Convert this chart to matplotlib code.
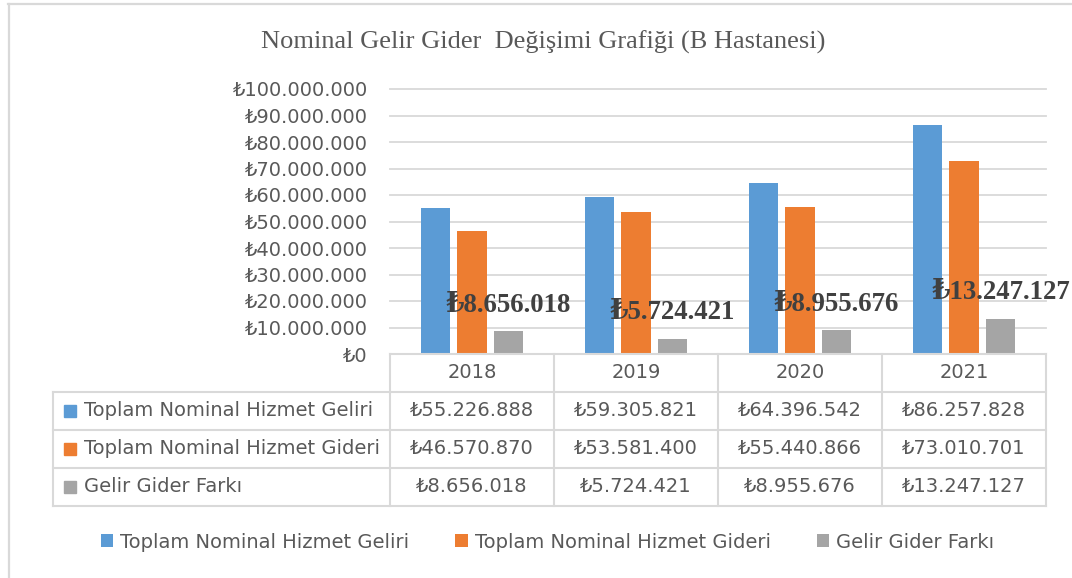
import matplotlib
matplotlib.use("Agg")
import matplotlib.pyplot as plt
from matplotlib.lines import Line2D
from matplotlib.patches import Patch
from matplotlib.transforms import offset_copy
import numpy as np

# ---- data ----
years = ["2018", "2019", "2020", "2021"]
series_names = ["Toplam Nominal Hizmet Geliri", "Toplam Nominal Hizmet Gideri", "Gelir Gider Farkı"]
gelir = [55226888, 59305821, 64396542, 86257828]
gider = [46570870, 53581400, 55440866, 73010701]
fark = [8656018, 5724421, 8955676, 13247127]
colors = ["#5B9BD5", "#ED7D31", "#A5A5A5"]
title = "Nominal Gelir Gider  Değişimi Grafiği (B Hastanesi)"

TXT = "#595959"
GRID = "#D9D9D9"
W, H = 1072, 578


def tl(v):
    return "₺" + f"{v:,}".replace(",", ".")


plt.rcParams['font.family'] = ['DejaVu Sans']
fig = plt.figure(figsize=(W / 100, H / 100), dpi=100)

# figure border (top & left)
fig.add_artist(Line2D([8 / W, 1], [1 - 4 / H, 1 - 4 / H], color=GRID, lw=1.6, transform=fig.transFigure))
fig.add_artist(Line2D([9 / W, 9 / W], [1 - 4 / H, 0], color=GRID, lw=1.6, transform=fig.transFigure))

# ---- main bar axes ----
x0, x1 = 390, 1046
y_top, y_bot = 89, 354
ax = fig.add_axes([x0 / W, 1 - y_bot / H, (x1 - x0) / W, (y_bot - y_top) / H])
x = np.arange(len(years))
bw = 0.177
step = 0.2226
all_series = [gelir, gider, fark]
for i, (vals, c) in enumerate(zip(all_series, colors)):
    ax.bar(x + (i - 1) * step, vals, width=bw, color=c, zorder=3)

ax.set_xlim(-0.5, len(years) - 0.5)
ax.set_ylim(0, 100_000_000)
yt = np.arange(0, 100_000_001, 10_000_000)
ax.set_yticks(yt)
ax.set_yticklabels([tl(int(v)) for v in yt], fontsize=14, color=TXT)
ax.tick_params(axis='y', length=0, pad=15.8)
ax.set_xticks([])
ax.grid(axis='y', color=GRID, lw=1.3, zorder=0)
for gl in ax.get_ygridlines():
    gl.set_clip_on(False)
for s in ax.spines.values():
    s.set_visible(False)

# data labels on the difference series
for xi, v in zip(x + step, fark):
    ax.annotate(tl(v), (xi, v), xytext=(0, 18.7), textcoords='offset points',
                ha='center', va='center', fontsize=19.3, fontweight='bold',
                color="#404040", family=['Liberation Serif', 'DejaVu Serif'], zorder=5)

# title
fig.text(543 / W, 1 - 42 / H, title, ha='center', va='center', fontsize=19,
         color=TXT, family=['Liberation Serif', 'DejaVu Serif'])

# ---- data table ----
tx0 = 53.5
t_top, t_bot = 354, 506
cat_px = (x1 - x0) / len(years)
xleft = -0.5 - (x0 - tx0) / cat_px
axt = fig.add_axes([tx0 / W, 1 - t_bot / H, (x1 - tx0) / W, (t_bot - t_top) / H])
axt.set_xlim(xleft, len(years) - 0.5)
axt.set_ylim(4, 0)
axt.axis('off')
lw = 1.5
axt.plot([-0.5, len(years) - 0.5], [0, 0], color=GRID, lw=lw, clip_on=False)
for r in range(1, 5):
    axt.plot([xleft, len(years) - 0.5], [r, r], color=GRID, lw=lw, clip_on=False)
axt.plot([xleft, xleft], [1, 4], color=GRID, lw=lw, clip_on=False)
for c in range(len(years) + 1):
    axt.plot([c - 0.5, c - 0.5], [0, 4], color=GRID, lw=lw, clip_on=False)

for j, yr in enumerate(years):
    axt.text(j, 0.5, yr, ha='center', va='center', fontsize=14, color=TXT)
for i, (name, vals, col) in enumerate(zip(series_names, all_series, colors)):
    yc = i + 1.5
    mk_tr = offset_copy(axt.transData, fig=fig, x=16.5, y=0, units='dots')
    axt.plot([xleft], [yc], marker='s', markersize=8.6, color=col, lw=0,
             transform=mk_tr, clip_on=False)
    tx_tr = offset_copy(axt.transData, fig=fig, x=30.5, y=0, units='dots')
    axt.text(xleft, yc, name, ha='left', va='center', fontsize=14, color=TXT, transform=tx_tr)
    for j, v in enumerate(vals):
        axt.text(j, yc, tl(v), ha='center', va='center', fontsize=14, color=TXT)

# ---- legend ----
handles = [Patch(facecolor=c, edgecolor='none') for c in colors]
fig.legend(handles, series_names, loc='center', bbox_to_anchor=(547.5 / W, 1 - 542 / H),
           ncol=3, frameon=False, fontsize=14, labelcolor=TXT,
           handlelength=0.62, handleheight=0.62, handletextpad=0.36,
           columnspacing=2.4, borderpad=0, borderaxespad=0)

fig.savefig("out.png", dpi=100)
